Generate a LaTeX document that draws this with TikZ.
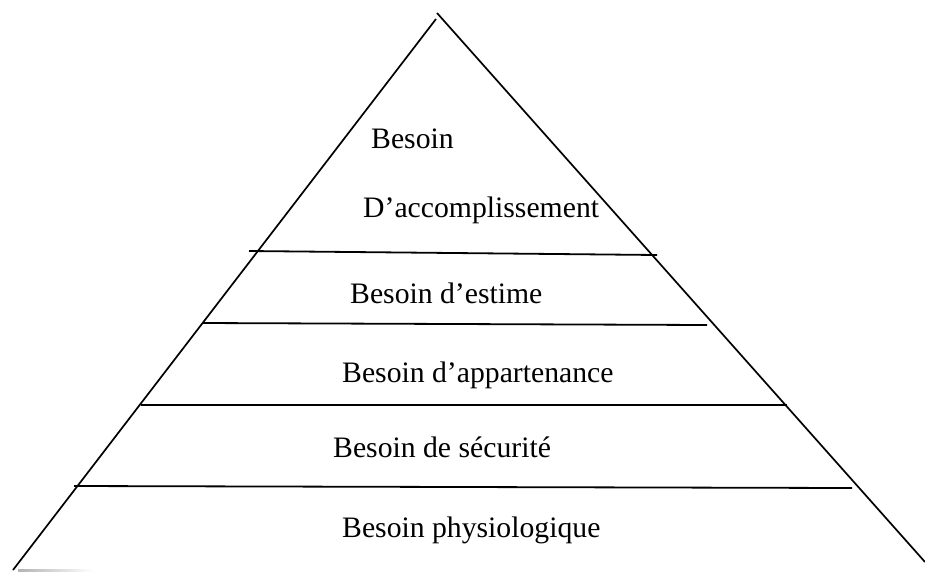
\documentclass[tikz,border=0pt]{standalone}
\usepackage{fontspec}
\setmainfont{Liberation Serif}
\begin{document}
\begin{tikzpicture}[x=1pt,y=-1pt,
  edge/.style={line width=1.7pt,black},
  level/.style={line width=1.8pt,black},
  lbl/.style={anchor=base west,inner sep=0pt,font=\fontsize{29.7}{35}\selectfont}]
\useasboundingbox (0,0) rectangle (925,571);
% sides of the pyramid
\coordinate (topL) at (436,19);
\coordinate (botL) at (13,570);
\coordinate (topR) at (437,13);
\coordinate (botR) at (925,562);
\draw[edge] (topL) -- (botL);
\draw[edge] (topR) -- (botR);
% level lines
\coordinate (l1a) at (249,251); \coordinate (l1b) at (657,255);
\coordinate (l2a) at (202,323); \coordinate (l2b) at (707,325);
\coordinate (l3a) at (141,405); \coordinate (l3b) at (787,405);
\coordinate (l4a) at (74,486);  \coordinate (l4b) at (852,488);
\draw[level] (l1a) -- (l1b);
\draw[level] (l2a) -- (l2b);
\draw[level] (l3a) -- (l3b);
\draw[level] (l4a) -- (l4b);
% faint grey stroke at the base
\shade[left color=gray!60, right color=white] (18,569.3) rectangle (93,571);
% labels
\node[lbl] (t1) at (371,148) {Besoin};
\node[lbl] (t2) at (363,217) {D’accomplissement};
\node[lbl] (t3) at (350,303) {Besoin d’estime};
\node[lbl] (t4) at (342,382) {Besoin d’appartenance};
\node[lbl] (t5) at (333,457) {Besoin de sécurité};
\node[lbl] (t6) at (342,537) {Besoin physiologique};
\end{tikzpicture}
\end{document}
